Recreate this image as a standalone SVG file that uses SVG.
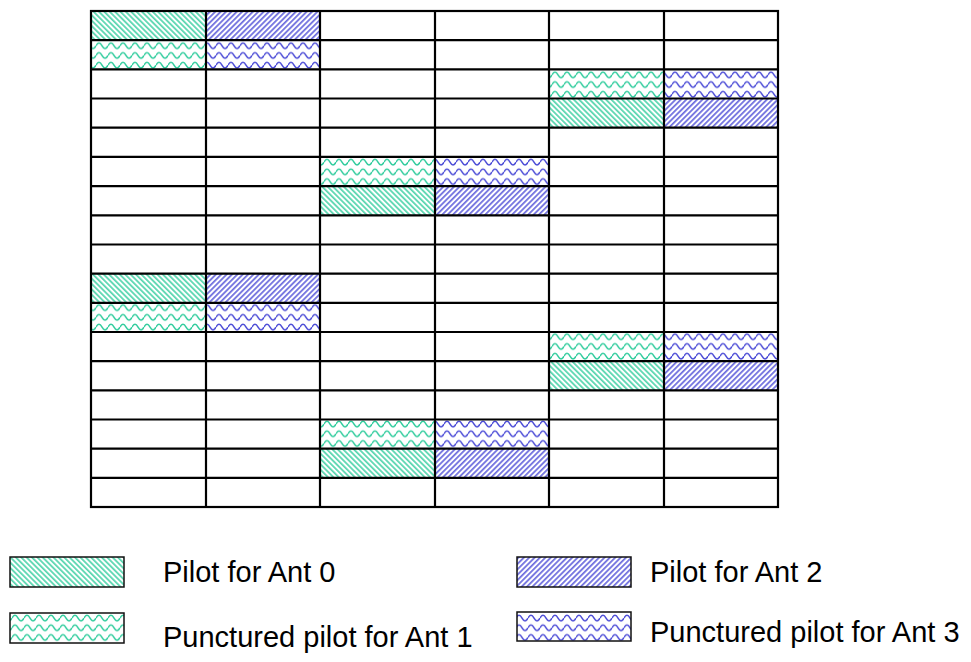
<svg xmlns="http://www.w3.org/2000/svg" width="971" height="662" viewBox="0 0 971 662">
<style>
.sw{stroke:#111;stroke-width:1.5}
.lbl{font-family:"Liberation Sans",Arial,sans-serif;font-size:29px;fill:#000}
</style>
<defs>
<pattern id="dT" patternUnits="userSpaceOnUse" width="3.8" height="10" patternTransform="rotate(-45)">
<rect width="3.8" height="10" fill="#fff"/>
<line x1="0.9" y1="0" x2="0.9" y2="10" stroke="#2ecc9c" stroke-width="1.4"/>
</pattern>
<pattern id="dB" patternUnits="userSpaceOnUse" width="3.8" height="10" patternTransform="rotate(45)">
<rect width="3.8" height="10" fill="#fff"/>
<line x1="0.9" y1="0" x2="0.9" y2="10" stroke="#4a4ad6" stroke-width="1.4"/>
</pattern>
<pattern id="wT" patternUnits="userSpaceOnUse" width="12" height="9.7" y="2">
<rect width="12" height="9.7" fill="#fff"/>
<path d="M0,5 Q3,-0.5 6,5 T12,5" fill="none" stroke="#2ecc9c" stroke-width="1.5"/>
</pattern>
<pattern id="wB" patternUnits="userSpaceOnUse" width="12" height="9.7" y="2">
<rect width="12" height="9.7" fill="#fff"/>
<path d="M0,5 Q3,-0.5 6,5 T12,5" fill="none" stroke="#4a4ad6" stroke-width="1.5"/>
</pattern>
</defs>
<rect width="971" height="662" fill="#fff"/>

<g id="pilots">
<rect x="91" y="11" width="115" height="29.2" fill="url(#dT)"/>
<rect x="206" y="11" width="114" height="29.2" fill="url(#dB)"/>
<rect x="91" y="40.2" width="115" height="29.2" fill="url(#wT)"/>
<rect x="206" y="40.2" width="114" height="29.2" fill="url(#wB)"/>
<rect x="549" y="69.4" width="115" height="29.2" fill="url(#wT)"/>
<rect x="664" y="69.4" width="114" height="29.2" fill="url(#wB)"/>
<rect x="549" y="98.5" width="115" height="29.2" fill="url(#dT)"/>
<rect x="664" y="98.5" width="114" height="29.2" fill="url(#dB)"/>
<rect x="320" y="156.9" width="115" height="29.2" fill="url(#wT)"/>
<rect x="435" y="156.9" width="114" height="29.2" fill="url(#wB)"/>
<rect x="320" y="186.1" width="115" height="29.2" fill="url(#dT)"/>
<rect x="435" y="186.1" width="114" height="29.2" fill="url(#dB)"/>
<rect x="91" y="273.6" width="115" height="29.2" fill="url(#dT)"/>
<rect x="206" y="273.6" width="114" height="29.2" fill="url(#dB)"/>
<rect x="91" y="302.8" width="115" height="29.2" fill="url(#wT)"/>
<rect x="206" y="302.8" width="114" height="29.2" fill="url(#wB)"/>
<rect x="549" y="332" width="115" height="29.2" fill="url(#wT)"/>
<rect x="664" y="332" width="114" height="29.2" fill="url(#wB)"/>
<rect x="549" y="361.2" width="115" height="29.2" fill="url(#dT)"/>
<rect x="664" y="361.2" width="114" height="29.2" fill="url(#dB)"/>
<rect x="320" y="419.5" width="115" height="29.2" fill="url(#wT)"/>
<rect x="435" y="419.5" width="114" height="29.2" fill="url(#wB)"/>
<rect x="320" y="448.7" width="115" height="29.2" fill="url(#dT)"/>
<rect x="435" y="448.7" width="114" height="29.2" fill="url(#dB)"/>
</g>

<g id="grid" fill="none" stroke="#000" stroke-width="2.2">
<rect x="91" y="11" width="687" height="496"/>
<path d="M206,11V507M320,11V507M435,11V507M549,11V507M664,11V507"/>
<path d="M91,40.2H778M91,69.4H778M91,98.5H778M91,127.7H778M91,156.9H778M91,186.1H778M91,215.3H778M91,244.5H778M91,273.6H778M91,302.8H778M91,332H778M91,361.2H778M91,390.4H778M91,419.5H778M91,448.7H778M91,477.9H778"/>
</g>

<g id="legend-ant0">
<rect class="sw" x="10" y="557" width="114" height="30" fill="url(#dT)"/>
<text class="lbl" x="163" y="582">Pilot for Ant 0</text>
</g>
<g id="legend-ant1">
<rect class="sw" x="10" y="613" width="114" height="30" fill="url(#wT)"/>
<text class="lbl" x="163" y="647">Punctured pilot for Ant 1</text>
</g>
<g id="legend-ant2">
<rect class="sw" x="517" y="557" width="114" height="30" fill="url(#dB)"/>
<text class="lbl" x="650" y="582">Pilot for Ant 2</text>
</g>
<g id="legend-ant3">
<rect class="sw" x="517" y="612" width="114" height="29" fill="url(#wB)"/>
<text class="lbl" x="650" y="642">Punctured pilot for Ant 3</text>
</g>
</svg>
